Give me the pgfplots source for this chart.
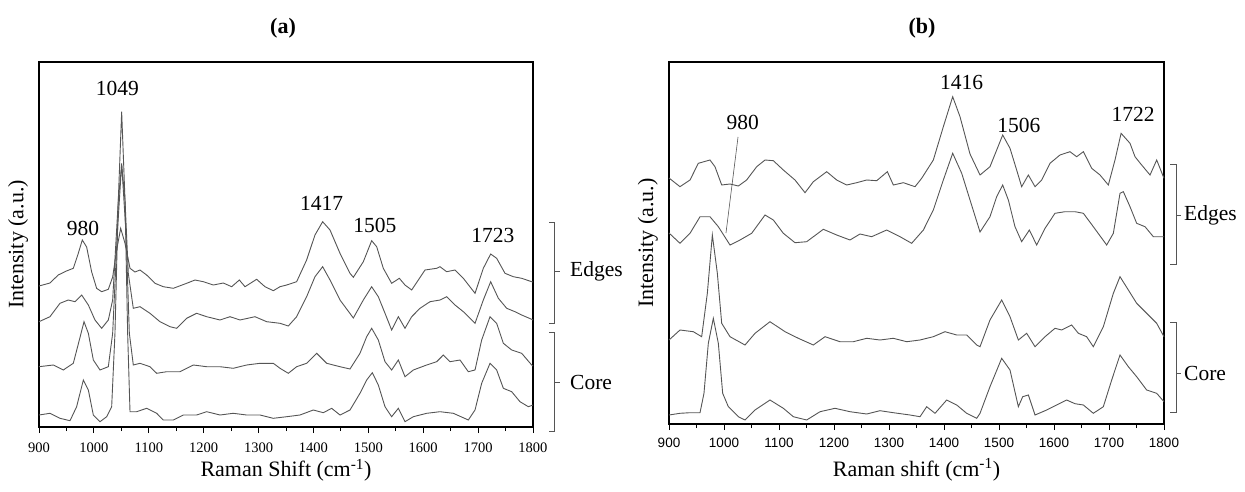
\documentclass[border=0pt]{standalone}
\usepackage{fontspec}
\setmainfont{Liberation Serif}
\newfontfamily\arialfont{Liberation Sans}
\usepackage{pgfplots}
\pgfplotsset{compat=1.18}
\definecolor{specgray}{RGB}{85,85,85}
\newcommand{\annfont}{\fontsize{21.5}{24}\selectfont}
\newcommand{\labfont}{\fontsize{22}{24}\selectfont}

\pgfplotsset{
  spec/.style={
    scale only axis, anchor=south west,
    xmin=900, xmax=1800, ymin=0,
    xtick={900,1000,...,1800},
    minor xtick={950,1050,...,1750},
    ytick=\empty,
    tick align=outside, xtick pos=bottom,
    axis line style={line width=1.1pt},
    major tick length=6pt, minor tick length=4pt,
    tick style={black, line width=0.9pt},
    /pgf/number format/set thousands separator={},
    /pgf/number format/assume math mode=true,
    clip=false,
    every axis plot post/.append style={specgray, line width=0.9pt, mark=none},
  }
}

\begin{document}
\begin{tikzpicture}[x=1pt, y=1pt]
\useasboundingbox (0,0) rectangle (1245,491);

% ---------------- (a) ----------------
\begin{axis}[spec, at={(39pt,64pt)}, width=494pt, height=365pt, ymax=365,
    xticklabel style={font=\fontsize{14.5}{16}\selectfont, yshift=-6pt},
    xlabel={Raman Shift (cm\textsuperscript{-1})},
    xlabel style={font=\labfont, at={(axis description cs:0.5,-0.118)}, anchor=center},
    ylabel={Intensity (a.u.)},
    ylabel style={font=\labfont, at={(axis description cs:-0.0425,0.5)}, anchor=center},
  ]
% Edges 1
\addplot coordinates {(900,141) (920,144) (935,152) (950,156) (962.5,158.7) (971.6,173.7) (978.9,187) (986.8,180) (996,155) (1005,138.7) (1014.2,135.3) (1026.3,137.7) (1034.2,150) (1041.5,177) (1048.8,198.7) (1056.7,183.7) (1065.8,158.7) (1074.9,155) (1084,157) (1096.1,152) (1111.3,143.7) (1126.5,140.3) (1144.7,138.7) (1169,143.7) (1184.2,147) (1199.4,145.3) (1217.6,142) (1235.8,144) (1251,140.3) (1265,147) (1275.3,140.3) (1296.5,147.7) (1311.7,140.3) (1326.9,136.3) (1339.1,140.3) (1351.2,142) (1369.4,145.3) (1387.6,167) (1402.8,192) (1416.8,205.3) (1430.2,197) (1448.4,173.7) (1466.6,153.7) (1472.7,149.7) (1490.9,165.3) (1506.1,186.3) (1515.2,180.3) (1527.3,158.7) (1542.5,143.7) (1556.5,148.7) (1566.8,142) (1579,137) (1591.1,147) (1603.3,157) (1624.5,158.7) (1630.6,160.3) (1642.7,155.3) (1657.9,157) (1673.1,148.7) (1694.4,133.7) (1709.5,158.7) (1722.9,173) (1733.8,168.7) (1749,153.7) (1764.2,150.3) (1779.4,148.7) (1797.6,145.3) (1800,145)};
% Edges 2
\addplot coordinates {(900,105.3) (920,110.3) (938.2,123.7) (953.4,127) (965.6,125.3) (977.7,132) (989.9,122) (1002,107) (1014.2,98.7) (1026.3,107) (1034.2,127) (1044.5,227) (1050.6,262) (1056.7,227) (1062.7,153.7) (1071.8,118.7) (1084,120.3) (1102.2,113.7) (1120.4,105.3) (1138.6,100.3) (1150.8,98.7) (1169,108.7) (1187.2,113.7) (1205.5,110.3) (1229.7,107) (1248,110.3) (1266.2,107) (1293.5,110.3) (1314.8,105.3) (1339.1,103.7) (1354.2,101) (1369.4,110.3) (1387.6,130.3) (1402.8,150.3) (1416.8,160.3) (1430.2,147) (1448.4,127) (1472.7,109) (1490.9,127) (1506.1,140.3) (1518.2,130.3) (1530.4,113.7) (1542.5,97) (1554.7,110.3) (1566.8,98.7) (1579,110.3) (1594.2,118.7) (1612.4,125.3) (1630.6,127) (1642.7,130.3) (1657.9,122) (1673.1,115.3) (1694.4,103.7) (1709.5,127) (1722.9,145.3) (1736.9,128.7) (1752.1,118.7) (1767.2,115.3) (1779.4,112) (1797.6,107.7) (1800,107)};
% Core 1
\addplot coordinates {(900,60.3) (926,62) (944.3,57) (962.5,63.7) (973.5,87) (982,105.3) (989.9,93.7) (999,67) (1011.1,57) (1026.3,60.3) (1034.2,93.7) (1042.7,193.7) (1050.6,263.7) (1058.5,193.7) (1064.6,93.7) (1071.8,62) (1084,63.7) (1102.2,60.3) (1114.4,53.7) (1132.6,55.3) (1156.9,55.3) (1181.2,62) (1205.5,60.3) (1229.7,60.3) (1254,58.7) (1278.3,62) (1302.6,63.7) (1326.9,63.7) (1339.1,58.7) (1354.2,53.7) (1369.4,60.3) (1387.6,63.7) (1405.9,73.7) (1424.1,63.7) (1448.4,60.3) (1466.6,58) (1484.8,73.7) (1497,90.3) (1506.1,98.7) (1518.2,87) (1530.4,65.3) (1542.5,57) (1554.7,67) (1566.8,50.3) (1582,57) (1606.3,62) (1624.5,65.3) (1636.7,72) (1648.8,65.3) (1667,67) (1682.2,55.3) (1694.4,57) (1706.5,87) (1721.7,110.3) (1733.8,103.7) (1746,83.7) (1761.2,77) (1779.4,73.7) (1797.6,62) (1800,61)};
% Core 2
\addplot coordinates {(900,12) (920,13.7) (938.2,8.7) (956.5,6.3) (968.6,20.3) (980.8,47) (989.9,37) (999,12) (1011.1,5.3) (1023.3,10.3) (1032.4,20.3) (1038.4,93.7) (1044.5,227) (1050.6,315.3) (1056.7,227) (1061.5,93.7) (1065.8,15.3) (1077.9,15.3) (1096.1,18.7) (1114.4,13.7) (1126.5,7) (1144.7,7) (1162.9,12) (1187.2,12) (1205.5,15.3) (1229.7,12) (1254,13.7) (1278.3,12) (1302.6,12) (1326.9,8.7) (1351.2,10.3) (1375.5,12) (1399.8,17) (1418,14.3) (1433.2,18.7) (1448.4,12) (1466.6,17) (1484.8,33.7) (1497,47) (1507.3,54.3) (1518.2,42) (1530.4,20.3) (1542.5,10.3) (1554.7,18.7) (1566.8,5.3) (1582,10.3) (1606.3,13.7) (1630.6,15.3) (1654.9,13.7) (1682.2,7) (1694.4,17) (1706.5,43.7) (1721.7,63.7) (1733.8,57) (1746,38.7) (1761.2,35.3) (1776.3,25.3) (1791.5,20.3) (1800,22)};
\node[font=\annfont] at (axis cs:1043,339) {1049};
\node[font=\annfont] at (axis cs:980,199) {980};
\node[font=\annfont] at (axis cs:1415,224) {1417};
\node[font=\annfont] at (axis cs:1512,202) {1505};
\node[font=\annfont] at (axis cs:1727,192) {1723};
\end{axis}

% ---------------- (b) ----------------
\begin{axis}[spec, at={(669pt,67pt)}, width=495pt, height=362pt, ymax=362,
    xticklabel style={font=\arialfont\fontsize{13.5}{15}\selectfont, yshift=-5pt},
    xlabel={Raman shift (cm\textsuperscript{-1})},
    xlabel style={font=\labfont, at={(axis description cs:0.5,-0.127)}, anchor=center},
    ylabel={Intensity (a.u.)},
    ylabel style={font=\labfont, at={(axis description cs:-0.0425,0.5)}, anchor=center},
  ]
% Edges 1
\addplot coordinates {(900,246) (920,237.3) (938.2,244) (953.3,260.7) (974.5,264) (983.6,257.3) (995.8,239) (1010.9,240) (1026.1,238) (1041.2,244) (1059.4,257.3) (1074.6,264) (1089.7,263.3) (1107.9,254) (1129.1,244) (1147.3,231.3) (1162.4,242.3) (1186.7,252.3) (1204.9,244) (1223,239) (1241.2,241.3) (1259.4,244) (1277.6,243.3) (1297,252.3) (1307.9,239) (1326.1,241.3) (1347.3,237.3) (1359.4,245.7) (1380.6,264) (1398.8,297.3) (1415.8,327.3) (1429.1,307.3) (1447.3,270) (1465.5,249) (1483.6,257.3) (1495.8,274) (1506.7,289) (1520,275.7) (1532.1,254) (1541.2,237.3) (1553.4,249) (1565.5,237.3) (1577.6,244) (1592.7,260.7) (1610.9,269) (1629.1,272.3) (1641.2,267.3) (1653.4,272.3) (1668.5,255.7) (1683.7,249) (1698.8,239) (1710.9,264) (1722,290.7) (1738.2,280.7) (1747.3,267.3) (1759.4,259) (1774.6,249) (1786.7,264) (1800,245.7)};
% Edges 2
\addplot coordinates {(900,191) (920,180.7) (938.2,190.7) (956.4,207.3) (974.5,207.3) (989.7,197.3) (1010.9,179) (1029.1,184) (1050.3,190.7) (1074.6,209) (1089.7,204) (1107.9,190.7) (1129.1,181.3) (1150.3,182.3) (1180.6,194.7) (1204.9,189) (1229.1,184) (1247.3,190) (1268.5,187.3) (1295.8,194) (1320,187.3) (1341.2,180.7) (1362.5,194) (1380.6,214) (1398.8,244) (1415.8,270.7) (1432.2,250.7) (1447.3,224) (1465.5,192) (1483.6,207.3) (1495.8,227.3) (1506.7,239) (1517,224) (1529.1,197.3) (1541.2,182.3) (1555.2,194) (1568.5,179) (1583.7,195.7) (1601.8,210.7) (1620,212.3) (1638.2,212.3) (1653.4,210.7) (1671.5,197.3) (1695.8,179) (1707.9,190.7) (1720,230.7) (1726.1,232.3) (1738.2,217.3) (1750.3,200.7) (1765.5,197.3) (1780.6,187.3) (1800,187.3)};
% Core 1
\addplot coordinates {(900,84) (920,94) (944.2,92.3) (959.4,87.3) (969.7,130.7) (978.8,189) (987.9,150.7) (995.8,100.7) (1010.9,87.3) (1038.2,79) (1056.4,90.7) (1083.6,102.3) (1110.9,92.3) (1135.2,85.7) (1162.4,79) (1183.7,87.3) (1210.9,82.3) (1235.2,82.3) (1259.4,85.7) (1283.7,84) (1307.9,85.7) (1332.1,82.3) (1356.4,84) (1380.6,87.3) (1401.8,92.3) (1423.1,89) (1441.2,89) (1459.4,79) (1465.5,77.3) (1483.6,104) (1504.9,124) (1520,107.3) (1535.2,84) (1550.3,90.7) (1565.5,77.3) (1583.7,87.3) (1601.8,95.7) (1614,94) (1632.1,99) (1644.3,90.7) (1659.4,87.3) (1671.5,77.3) (1689.7,97.3) (1707.9,130.7) (1720,147.3) (1735.2,134) (1750.3,120.7) (1768.5,110.7) (1786.7,100.7) (1800,87.3)};
% Core 2
\addplot coordinates {(900,9) (920,10.7) (938.2,11.3) (956.4,11.3) (963.6,30.7) (971.5,80.7) (980.6,105.7) (989.7,80.7) (997.6,30.7) (1007.9,17.3) (1026.1,7.3) (1038.2,4) (1056.4,14) (1083.6,24) (1107.9,15.7) (1126.1,7.3) (1150.3,4) (1174.6,12.3) (1201.8,15.7) (1229.1,12.3) (1259.4,10) (1283.7,13.3) (1307.9,11.3) (1338.2,9) (1356.4,7.3) (1368.5,17.3) (1383.7,10.7) (1404.9,24) (1423.1,19) (1441.2,10.7) (1459.4,5.7) (1465.5,10.7) (1483.6,37.3) (1504.9,65.7) (1520,54) (1535.2,17.3) (1543.1,27.3) (1553.4,29) (1565.5,9) (1586.7,14) (1604.9,19) (1623,24) (1638.2,20.3) (1653.4,19) (1671.5,10.7) (1689.7,17.3) (1704.9,44) (1720,69) (1735.2,57.3) (1750.3,47.3) (1768.5,34) (1786.7,30.7) (1800,22.3)};
\node[font=\annfont] at (axis cs:1432,342) {1416};
\node[font=\annfont] at (axis cs:1536,299) {1506};
\node[font=\annfont] at (axis cs:1744,310) {1722};
\node[font=\annfont] at (axis cs:1034,302) {980};
\draw[specgray, line width=0.6pt] (axis cs:1025.5,287) -- (axis cs:1003.6,191);
\end{axis}

% titles
\node[font=\bfseries\fontsize{22}{24}\selectfont] at (283,463) {(a)};
\node[font=\bfseries\fontsize{22}{24}\selectfont] at (922,463) {(b)};

% brackets (a)
\draw[specgray, line width=0.7pt] (549,269) -- (554,269) -- (554,168) -- (549,168) (554,220) -- (560,220);
\draw[specgray, line width=0.7pt] (549,159) -- (554,159) -- (554,60) -- (549,60) (554,109) -- (560,109);
\node[font=\annfont, anchor=west, inner sep=0pt] at (570,220) {Edges};
\node[font=\annfont, anchor=west, inner sep=0pt] at (570,109) {Core};
% brackets (b)
\draw[specgray, line width=0.7pt] (1170,327) -- (1176,327) -- (1176,227) -- (1170,227) (1176,276) -- (1181,276);
\draw[specgray, line width=0.7pt] (1170,169) -- (1176,169) -- (1176,79) -- (1170,79) (1176,118) -- (1181,118);
\node[font=\annfont, anchor=west, inner sep=0pt] at (1184,276) {Edges};
\node[font=\annfont, anchor=west, inner sep=0pt] at (1184,118) {Core};
\end{tikzpicture}
\end{document}
